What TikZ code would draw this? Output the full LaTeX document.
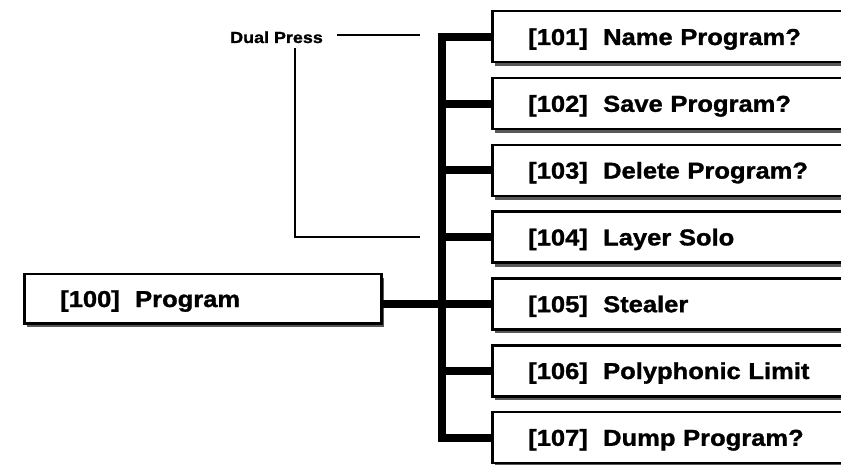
\documentclass[tikz,border=0pt]{standalone}
\usepackage{fontspec}
\newfontfamily\boxfont[FakeStretch=1.11,FakeBold=1.3]{Liberation Sans}
\newfontfamily\dualfont[FakeStretch=1.12,FakeBold=1.2]{Liberation Sans}
\usetikzlibrary{shadows}
\begin{document}
\begin{tikzpicture}[x=1pt,y=-1pt,
  shbox/.style={draw=black, line width=2.5pt, fill=white, rectangle, align=left,
    font=\boxfont\bfseries\fontsize{23}{27}\selectfont,
    text height=16.5pt, text depth=0pt, minimum height=51pt, anchor=north west,
    drop shadow={shadow xshift=3pt, shadow yshift=-4pt, fill=black!65, opacity=1}},
  rbox/.style={shbox, inner xsep=36pt, text width=330pt},
  pbox/.style={shbox, inner xsep=36pt, text width=285pt, minimum height=49pt},
  bus/.style={line width=8pt, line join=miter},
  thinline/.style={line width=1.6pt},
  dual/.style={font=\dualfont\bfseries\fontsize{16}{19}\selectfont, inner sep=0pt}]
\clip (0,0) rectangle (841,465);
\fill[white] (0,0) rectangle (841,465);
% right boxes
\node[rbox] (b1) at (491,10.0) {[101]\ \ Name Program?};
\node[rbox] (b2) at (491,76.8) {[102]\ \ Save Program?};
\node[rbox] (b3) at (491,143.6) {[103]\ \ Delete Program?};
\node[rbox] (b4) at (491,210.4) {[104]\ \ Layer Solo};
\node[rbox] (b5) at (491,277.2) {[105]\ \ Stealer};
\node[rbox] (b6) at (491,344.0) {[106]\ \ Polyphonic Limit};
\node[rbox] (b7) at (491,410.8) {[107]\ \ Dump Program?};
% program box
\node[pbox] (prog) at (23,273) {[100]\ \ Program};
% bus
\coordinate (busx) at (442,0);
\draw[bus] (b1.west) -- (b1.west -| busx) -- (b7.west -| busx) -- (b7.west);
\foreach \i in {2,...,6} { \draw[bus] (b\i.west) -- (b\i.west -| busx); }
\draw[bus] (prog.east |- b5.west) -- (b5.west -| busx);
% dual press
\node[dual, anchor=base west] (dual) at (230,43) {Dual Press};
\coordinate (d1) at (337,35);
\coordinate (d2) at (420,35);
\coordinate (d3) at (295,48);
\coordinate (d4) at (420,237);
\draw[thinline] (d1) -- (d2);
\draw[thinline] (d3) |- (d4);
\end{tikzpicture}
\end{document}
